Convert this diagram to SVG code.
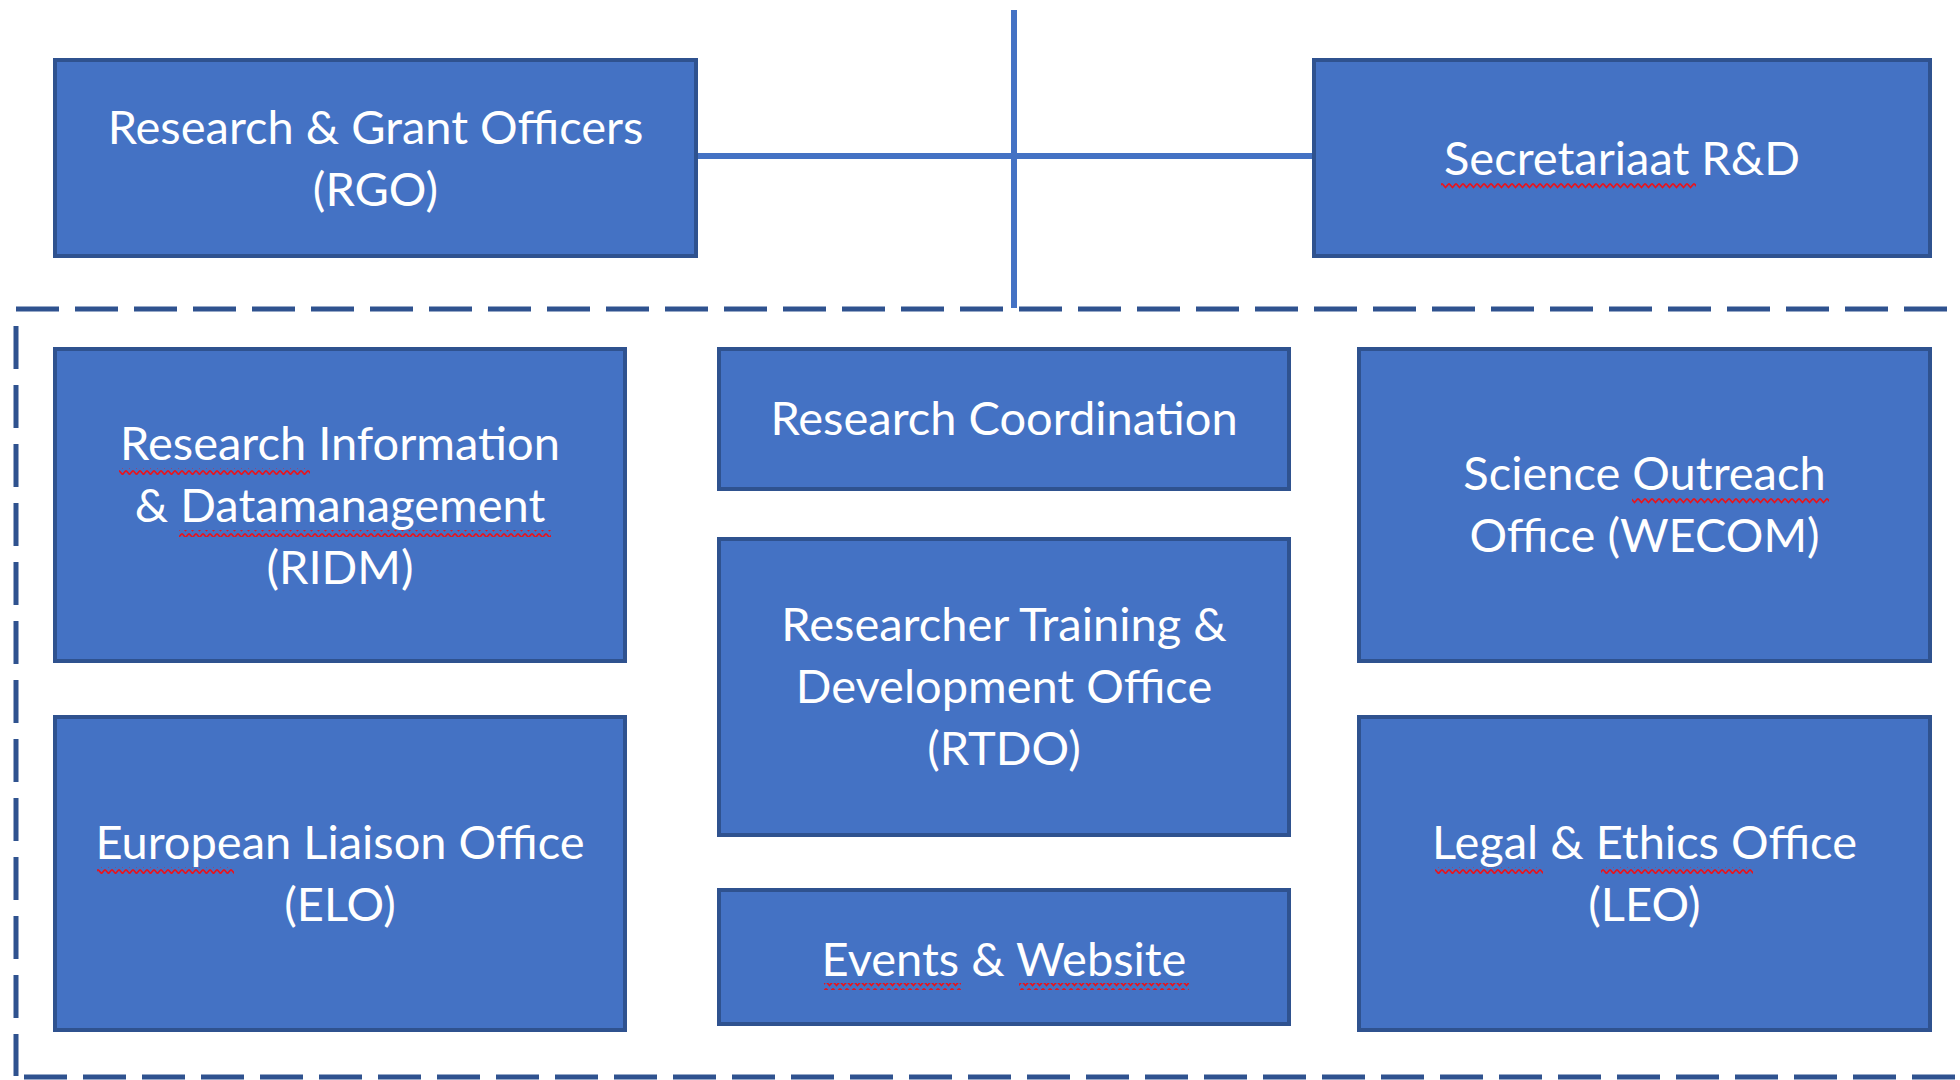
<svg xmlns="http://www.w3.org/2000/svg" width="1960" height="1080" viewBox="0 0 1960 1080">
  <style>
    .box { fill: #4472C4; stroke: #2F528F; stroke-width: 4; }
    .lbl { font-family: Lato, "Open Sans", "Liberation Sans", sans-serif; font-size: 47px; fill: #FFFFFF; text-anchor: middle; }
    .link { stroke: #4472C4; stroke-width: 6; fill: none; }
    .group { stroke: #2F528F; stroke-width: 5; fill: none; stroke-dasharray: 43 16; }
    .squig { fill: url(#wave); }
  </style>
  <defs>
    <pattern id="wave" patternUnits="userSpaceOnUse" width="7" height="7">
      <polyline points="0,1.5 3.5,5.5 7,1.5" fill="none" stroke="#E8141C" stroke-width="1.8"/>
    </pattern>
  </defs>
  <rect width="1960" height="1080" fill="#FFFFFF"/>

  <!-- connectors and department boundary -->
  <g id="connectors">
    <line class="link" x1="1014" y1="10" x2="1014" y2="308"/>
    <line class="link" x1="696" y1="156" x2="1314" y2="156"/>
    <line class="group" x1="16" y1="309" x2="1960" y2="309"/>
    <line class="group" x1="16" y1="326" x2="16" y2="1076"/>
    <line class="group" x1="24" y1="1077" x2="1960" y2="1077"/>
  </g>

  <g id="rgo">
    <rect class="box" x="55" y="60" width="641" height="196"/>
    <text class="lbl" x="375.5" y="144">Research &amp; Grant Officers</text>
    <text class="lbl" x="375.5" y="206">(RGO)</text>
  </g>

  <g id="secretariaat">
    <rect class="box" x="1314" y="60" width="616" height="196"/>
    <text class="lbl" x="1622" y="175">Secretariaat R&amp;D</text>
    <rect class="squig" x="1441" y="183" width="255" height="7"/>
  </g>

  <g id="ridm">
    <rect class="box" x="55" y="349" width="570" height="312"/>
    <text class="lbl" x="340" y="460">Research Information</text>
    <text class="lbl" x="340" y="522">&amp; Datamanagement</text>
    <text class="lbl" x="340" y="584">(RIDM)</text>
    <rect class="squig" x="119" y="468" width="191" height="7"/>
    <rect class="squig" x="179" y="530" width="372" height="7"/>
  </g>

  <g id="research-coordination">
    <rect class="box" x="719" y="349" width="570" height="140"/>
    <text class="lbl" x="1004" y="435">Research Coordination</text>
  </g>

  <g id="rtdo">
    <rect class="box" x="719" y="539" width="570" height="296"/>
    <text class="lbl" x="1004" y="641">Researcher Training &amp;</text>
    <text class="lbl" x="1004" y="703">Development Office</text>
    <text class="lbl" x="1004" y="765">(RTDO)</text>
  </g>

  <g id="events-website">
    <rect class="box" x="719" y="890" width="570" height="134"/>
    <text class="lbl" x="1004" y="976">Events &amp; Website</text>
    <rect class="squig" x="824" y="983" width="137" height="7"/>
    <rect class="squig" x="1019" y="983" width="170" height="7"/>
  </g>

  <g id="wecom">
    <rect class="box" x="1359" y="349" width="571" height="312"/>
    <text class="lbl" x="1644.5" y="490">Science Outreach</text>
    <text class="lbl" x="1644.5" y="552">Office (WECOM)</text>
    <rect class="squig" x="1632" y="498" width="197" height="7"/>
  </g>

  <g id="elo">
    <rect class="box" x="55" y="717" width="570" height="313"/>
    <text class="lbl" x="340" y="859">European Liaison Office</text>
    <text class="lbl" x="340" y="921">(ELO)</text>
    <rect class="squig" x="97" y="867" width="137" height="7"/>
  </g>

  <g id="leo">
    <rect class="box" x="1359" y="717" width="571" height="313"/>
    <text class="lbl" x="1644.5" y="859">Legal &amp; Ethics Office</text>
    <text class="lbl" x="1644.5" y="921">(LEO)</text>
    <rect class="squig" x="1435" y="867" width="108" height="7"/>
    <rect class="squig" x="1601" y="867" width="152" height="7"/>
  </g>
</svg>
